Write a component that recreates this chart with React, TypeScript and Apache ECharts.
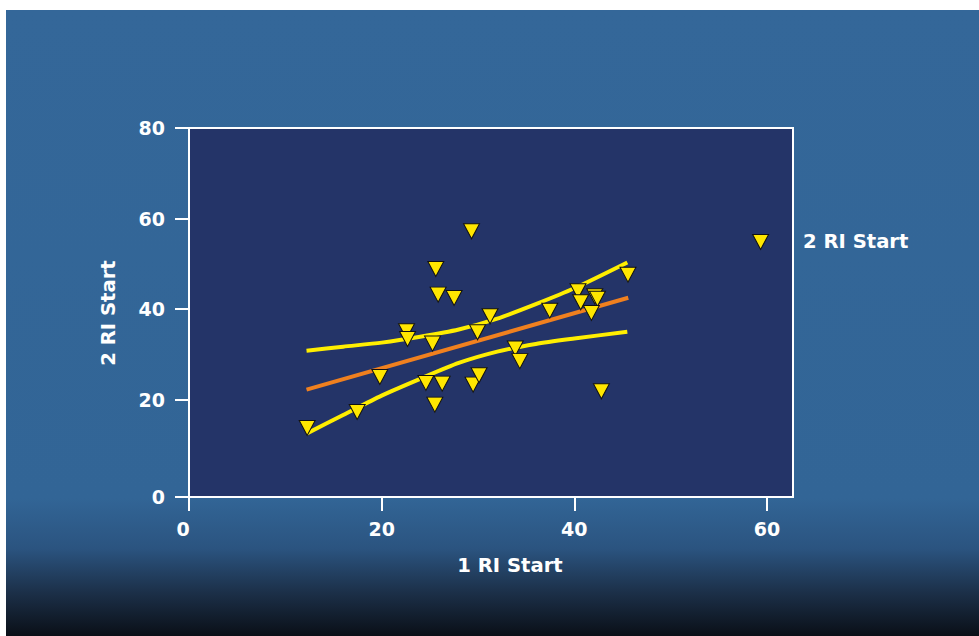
import React, { useEffect, useRef } from "react";
import * as echarts from "echarts";

// Scatter data (1 RI Start vs 2 RI Start)
const pointsX = [12.27, 17.46, 19.81, 22.58, 22.69, 25.28, 24.59, 25.62, 25.86, 25.52, 26.28, 27.52, 29.33, 29.95, 29.49, 30.11, 31.25, 33.87, 34.34, 37.45, 40.38, 40.66, 42.12, 42.4, 41.77, 42.81, 45.57, 59.34];
const pointsY = [13.76, 17.29, 25.02, 35.09, 33.41, 32.38, 23.7, 48.87, 43.2, 18.9, 23.54, 42.47, 57.18, 34.87, 23.32, 25.38, 38.41, 31.32, 28.51, 39.66, 43.93, 41.5, 42.82, 42.31, 39.16, 21.84, 47.61, 54.84];

// Regression line
const regX = [12.2, 45.6];
const regY = [22.2, 42.5];

// Upper confidence curve
const upperX = [12.2, 16, 20, 24, 28, 32, 36, 40, 45.5];
const upperY = [30.8, 31.7, 32.6, 33.9, 35.5, 37.9, 41.1, 44.6, 50.3];

// Lower confidence curve
const lowerX = [12.2, 16, 20, 24, 28, 32, 36, 40, 45.5];
const lowerY = [12.5, 16.6, 20.9, 24.6, 28.1, 30.6, 32.3, 33.5, 35.0];

// Axes
const xAxisMin = 0;
const xAxisMax = 62.7;
const xTickValues = [0, 20, 40, 60];
const xTickLabels = ["0", "20", "40", "60"];
const yAxisMin = -1.5;
const yAxisMax = 80;
const yTickValues = [yAxisMin, 20, 40, 60, 80];
const yTickLabels = ["0", "20", "40", "60", "80"];

const xAxisTitle = "1 RI Start";
const yAxisTitle = "2 RI Start";
const seriesName = "2 RI Start";

const FONT = "'DejaVu Sans', Verdana, sans-serif";

const zip = (xs: number[], ys: number[]) => xs.map((x, i) => [x, ys[i]]);

export default function App() {
  const ref = useRef<HTMLDivElement>(null);

  useEffect(() => {
    document.body.style.margin = "0";
    const chart = echarts.init(ref.current!, null, { renderer: "svg" });
    const labelStyle = {
      color: "#ffffff",
      fontFamily: FONT,
      fontWeight: "bold" as const,
      fontSize: 19,
    };
    const titleStyle = {
      fill: "#ffffff",
      fontFamily: FONT,
      fontWeight: "bold" as const,
      fontSize: 19.6,
    };
    chart.setOption({
      animation: false,
      backgroundColor: "transparent",
      graphic: [
        {
          type: "rect",
          z: -100,
          silent: true,
          shape: { x: 6, y: 10, width: 973, height: 626 },
          style: {
            fill: {
              type: "linear",
              x: 0,
              y: 0,
              x2: 0,
              y2: 1,
              colorStops: [
                { offset: 0, color: "#346799" },
                { offset: 0.78, color: "#326596" },
                { offset: 0.86, color: "#2b5480" },
                { offset: 0.93, color: "#1c3049" },
                { offset: 1, color: "#0a0f17" },
              ],
            },
          },
        },
        {
          type: "text",
          x: 510,
          y: 565,
          style: { text: xAxisTitle, ...titleStyle, align: "center", verticalAlign: "middle" },
        },
        {
          type: "text",
          x: 108,
          y: 313,
          rotation: Math.PI / 2,
          style: { text: yAxisTitle, ...titleStyle, align: "center", verticalAlign: "middle" },
        },
        {
          type: "text",
          x: 803,
          y: 241,
          style: { text: seriesName, ...titleStyle, align: "left", verticalAlign: "middle" },
        },
      ],
      grid: {
        left: 189,
        right: 186,
        top: 128,
        bottom: 139,
        show: true,
        backgroundColor: "#243468",
        borderColor: "#ffffff",
        borderWidth: 2,
      },
      xAxis: {
        type: "value",
        min: xAxisMin,
        max: xAxisMax,
        splitLine: { show: false },
        axisLine: { show: true, onZero: false, lineStyle: { color: "#ffffff", width: 2 } },
        axisTick: {
          show: true,
          length: 14,
          customValues: xTickValues,
          lineStyle: { color: "#ffffff", width: 2 },
        },
        axisLabel: {
          ...labelStyle,
          margin: 22,
          customValues: xTickValues,
          formatter: (v: number) => {
            const i = xTickValues.indexOf(v);
            const t = i >= 0 ? xTickLabels[i] : String(v);
            return i === 0 ? "{z|" + t + "}" : t;
          },
          rich: {
            z: { ...labelStyle, padding: [0, 12, 0, 0] },
          },
        },
      },
      yAxis: {
        type: "value",
        min: yAxisMin,
        max: yAxisMax,
        splitLine: { show: false },
        axisLine: { show: true, onZero: false, lineStyle: { color: "#ffffff", width: 2 } },
        axisTick: {
          show: true,
          length: 14,
          customValues: yTickValues,
          lineStyle: { color: "#ffffff", width: 2 },
        },
        axisLabel: {
          ...labelStyle,
          margin: 24,
          customValues: yTickValues,
          formatter: (v: number) => {
            const i = yTickValues.indexOf(v);
            return i >= 0 ? yTickLabels[i] : String(v);
          },
        },
      },
      series: [
        {
          type: "line",
          name: "upper",
          data: zip(upperX, upperY),
          smooth: 0.25,
          showSymbol: false,
          symbol: "none",
          lineStyle: { color: "#ffee00", width: 4 },
          z: 2,
        },
        {
          type: "line",
          name: "lower",
          data: zip(lowerX, lowerY),
          smooth: 0.25,
          showSymbol: false,
          symbol: "none",
          lineStyle: { color: "#ffee00", width: 4 },
          z: 2,
        },
        {
          type: "line",
          name: "fit",
          data: zip(regX, regY),
          showSymbol: false,
          symbol: "none",
          lineStyle: { color: "#f0801f", width: 4 },
          z: 2,
        },
        {
          type: "scatter",
          name: seriesName,
          data: zip(pointsX, pointsY),
          symbol: "triangle",
          symbolRotate: 180,
          symbolSize: [16, 15],
          itemStyle: { color: "#ffe600", borderColor: "#111111", borderWidth: 1, opacity: 1 },
          z: 5,
        },
      ],
    });
    return () => chart.dispose();
  }, []);

  return (
    <div
      ref={ref}
      style={{ position: "absolute", left: 0, top: 0, width: 979, height: 636, background: "#ffffff" }}
    />
  );
}
